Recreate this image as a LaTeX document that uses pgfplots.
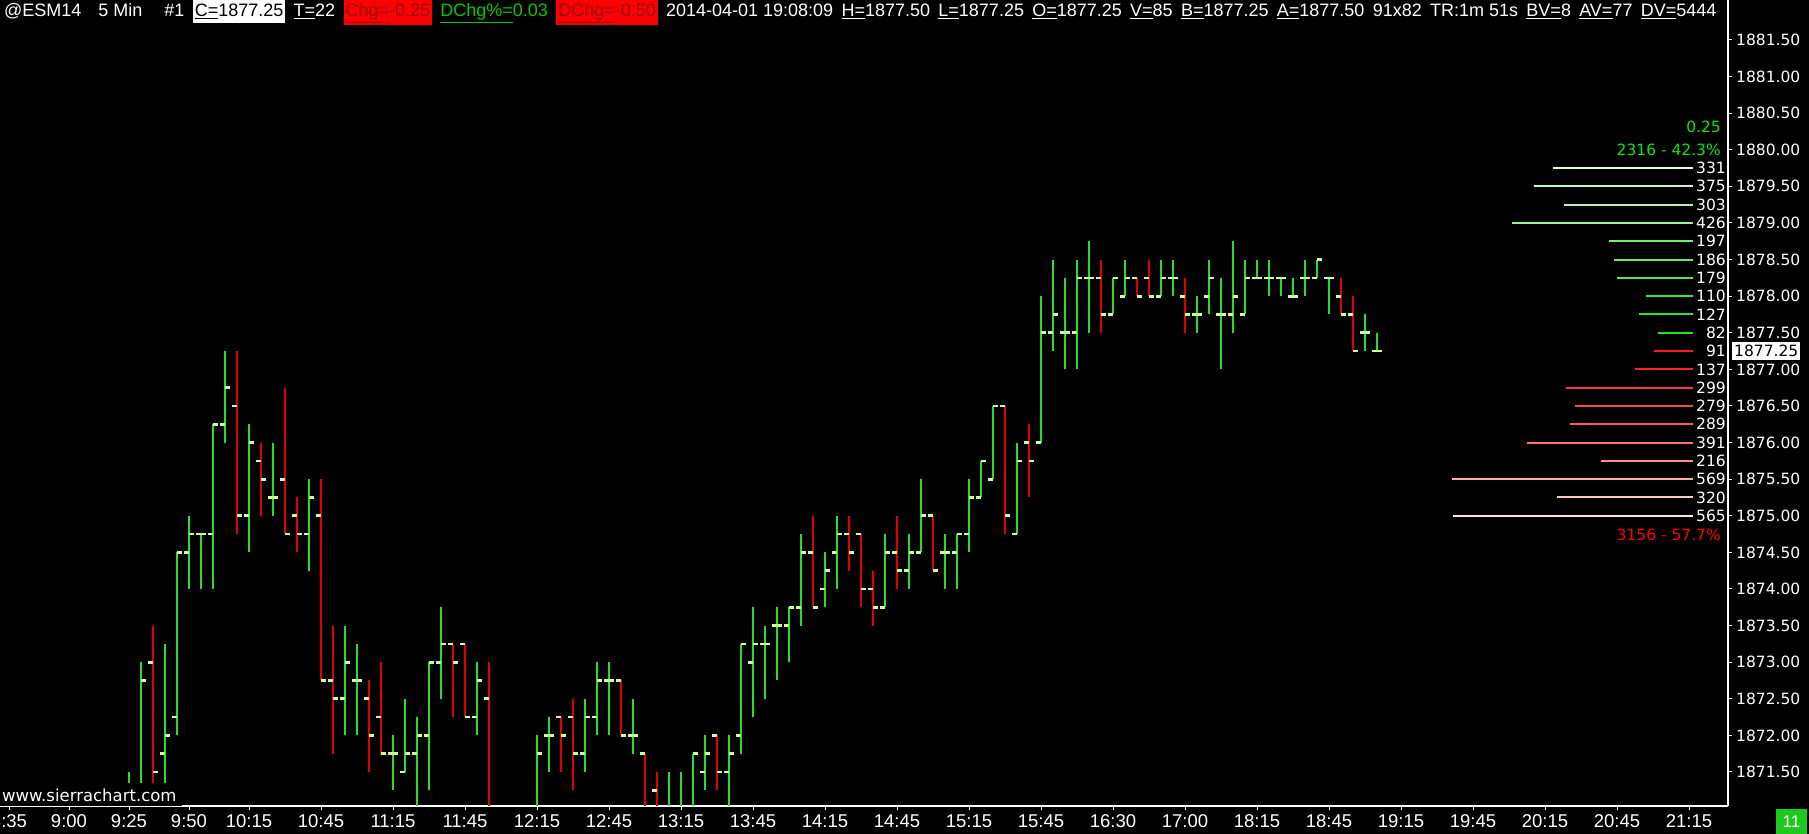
\documentclass[border=0pt]{standalone}
\usepackage{pgfplots}
\pgfplotsset{compat=1.18}
\usepackage{pgfplotstable}
\usepackage{fontspec}
\setmainfont{Liberation Sans}
\newfontfamily\dv{DejaVu Sans}

\definecolor{upg}{RGB}{40,220,40}
\definecolor{dnr}{RGB}{225,0,0}
\definecolor{tickc}{RGB}{204,255,150}
\definecolor{hdrgreen}{RGB}{0,200,0}
\definecolor{boxred}{RGB}{255,0,0}
\definecolor{boxtxt}{RGB}{150,0,0}
\definecolor{askg}{RGB}{30,230,30}
\definecolor{bidr}{RGB}{255,25,25}
\definecolor{pctg}{RGB}{0,235,0}
\definecolor{cornerg}{RGB}{30,200,30}

\newcommand\hdf{\fontsize{18bp}{20bp}\selectfont}
\newcommand\vol{\dv\fontsize{15.5bp}{17bp}\selectfont}
\newcommand\gap{\hspace{8.3bp}}
% boxed header item: background, text colour, content
\newcommand\hbx[3]{{\setlength\fboxsep{2bp}\colorbox{#1}{\rule[-4.5bp]{0pt}{19.5bp}\textcolor{#2}{#3}}}}

\pgfdeclareplotmark{otick}{\pgfpathrectangle{\pgfpoint{-4.8bp}{-1.35bp}}{\pgfpoint{4.8bp}{2.7bp}}\pgfusepathqfill}
\pgfdeclareplotmark{ctick}{\pgfpathrectangle{\pgfpoint{0bp}{-1.35bp}}{\pgfpoint{4.8bp}{2.7bp}}\pgfusepathqfill}

% bar index, open, high, low, close
\pgfplotstableread{
i o h l c
10 1871.00 1871.50 1870.75 1871.25
11 1871.25 1873.00 1871.00 1872.75
13 1871.75 1873.25 1871.25 1872.00
14 1872.25 1874.50 1872.00 1874.50
15 1874.50 1875.00 1874.00 1874.75
16 1874.75 1874.75 1874.00 1874.75
17 1874.75 1876.25 1874.00 1876.25
18 1876.25 1877.25 1876.00 1876.75
20 1875.00 1876.25 1874.50 1876.00
22 1875.25 1876.00 1875.00 1875.25
25 1874.75 1875.50 1874.25 1875.25
28 1872.50 1873.50 1872.00 1873.00
29 1872.75 1873.25 1872.00 1872.75
32 1871.75 1872.00 1871.25 1871.75
33 1871.50 1872.50 1871.50 1871.75
34 1871.75 1872.25 1870.75 1872.00
35 1872.00 1873.00 1871.25 1873.00
36 1873.00 1873.75 1872.50 1873.25
39 1872.25 1873.00 1872.00 1872.75
44 1870.75 1872.00 1870.50 1871.75
45 1872.00 1872.25 1871.50 1872.00
48 1871.75 1872.50 1871.50 1872.25
49 1872.25 1873.00 1872.00 1872.75
50 1872.75 1873.00 1872.00 1872.75
52 1872.00 1872.50 1871.75 1872.00
55 1870.75 1871.50 1870.50 1871.00
56 1870.75 1871.50 1870.50 1871.00
57 1871.00 1871.75 1870.75 1871.75
58 1871.50 1872.00 1871.25 1871.75
60 1871.50 1872.00 1870.75 1871.75
61 1872.00 1873.25 1871.75 1873.25
62 1873.00 1873.75 1872.25 1873.25
63 1873.25 1873.50 1872.50 1873.25
64 1873.50 1873.75 1872.75 1873.50
65 1873.50 1873.75 1873.00 1873.75
66 1873.75 1874.75 1873.50 1874.50
68 1874.00 1874.50 1873.75 1874.25
69 1874.50 1875.00 1874.00 1874.75
73 1873.75 1874.75 1873.75 1874.50
75 1874.25 1874.75 1874.00 1874.50
76 1874.50 1875.50 1874.50 1875.00
78 1874.50 1874.75 1874.00 1874.50
79 1874.50 1874.75 1874.00 1874.75
80 1874.75 1875.50 1874.50 1875.25
81 1875.25 1875.75 1875.25 1875.75
82 1875.50 1876.50 1875.50 1876.50
84 1874.75 1876.00 1874.75 1875.75
86 1876.00 1878.00 1876.00 1877.50
87 1877.50 1878.50 1877.25 1877.75
88 1877.50 1878.25 1877.00 1877.50
89 1877.50 1878.50 1877.00 1878.25
90 1878.25 1878.75 1877.50 1878.25
92 1877.75 1878.25 1877.75 1878.25
93 1878.00 1878.50 1878.00 1878.25
96 1878.00 1878.50 1878.00 1878.25
97 1878.25 1878.50 1878.00 1878.25
99 1877.75 1878.00 1877.50 1877.75
100 1878.00 1878.50 1877.75 1878.25
101 1877.75 1878.25 1877.00 1877.75
102 1877.75 1878.75 1877.50 1878.00
103 1877.75 1878.50 1877.75 1878.25
104 1878.25 1878.50 1878.25 1878.25
105 1878.25 1878.50 1878.00 1878.25
106 1878.25 1878.25 1878.00 1878.25
107 1878.00 1878.25 1878.00 1878.00
108 1878.25 1878.50 1878.00 1878.25
109 1878.25 1878.50 1878.25 1878.50
110 1878.25 1878.25 1877.75 1878.25
113 1877.50 1877.75 1877.25 1877.50
114 1877.25 1877.50 1877.25 1877.25
}\upbars

\pgfplotstableread{
i o h l c
12 1873.00 1873.50 1871.00 1871.50
19 1876.50 1877.25 1874.75 1875.00
21 1875.75 1876.00 1875.00 1875.50
23 1875.50 1876.75 1874.75 1874.75
24 1875.00 1875.25 1874.50 1874.75
26 1875.00 1875.50 1872.75 1872.75
27 1872.75 1873.50 1871.75 1872.50
30 1872.50 1872.75 1871.50 1872.00
31 1872.25 1873.00 1871.75 1871.75
37 1873.25 1873.25 1872.25 1873.00
38 1873.25 1873.25 1872.25 1872.25
40 1872.50 1873.00 1870.50 1870.75
46 1872.25 1872.25 1871.50 1872.00
47 1872.25 1872.50 1871.25 1871.75
51 1872.75 1872.75 1872.00 1872.00
53 1871.75 1871.75 1870.75 1871.00
54 1871.25 1871.50 1870.75 1870.75
59 1872.00 1872.00 1871.25 1871.50
67 1874.50 1875.00 1873.75 1873.75
70 1874.75 1875.00 1874.25 1874.50
71 1874.75 1874.75 1873.75 1874.00
72 1874.00 1874.25 1873.50 1873.75
74 1874.50 1875.00 1874.00 1874.25
77 1875.00 1875.00 1874.25 1874.25
83 1876.50 1876.50 1874.75 1875.00
85 1876.00 1876.25 1875.25 1875.75
91 1878.25 1878.50 1877.50 1877.75
94 1878.25 1878.25 1878.00 1878.00
95 1878.25 1878.50 1878.00 1878.00
98 1878.00 1878.25 1877.50 1877.75
111 1878.00 1878.25 1877.75 1877.75
112 1877.75 1878.00 1877.25 1877.25
}\dnbars

% depth line: price, size, colour
\newcommand{\depth}[3]{%
  \pgfmathsetmacro{\dx}{140.31-#2*0.03529}%
  \edef\temp{\noexpand\addplot[forget plot, draw=#3, line width=2bp] coordinates {(\dx,#1) (140.31,#1)};}%
  \temp
  \node[anchor=east, inner sep=0pt, text=white, font=\vol] at (axis cs:143.08,#1) {#2};%
}

\begin{document}
\begin{tikzpicture}
\fill[black] (0,-28bp) rectangle (1809bp,806bp);
\begin{axis}[
  scale only axis, width=1728bp, height=806bp,
  at={(0,0)}, anchor=south west,
  xmin=-0.75, xmax=143.25, ymin=1871.035, ymax=1882.046,
  axis x line=bottom, axis y line=right,
  axis line style={white, line width=1.3bp},
  x axis line style={-}, y axis line style={-},
  tick align=outside, major tick length=4bp,
  tick style={white, line width=1bp},
  xtick={0,5,10,15,20,26,32,38,44,50,56,62,68,74,80,86,92,98,104,110,116,122,128,134,140},
  xticklabels={8:35,9:00,9:25,9:50,10:15,10:45,11:15,11:45,12:15,12:45,13:15,13:45,14:15,14:45,15:15,15:45,16:30,17:00,18:15,18:45,19:15,19:45,20:15,20:45,21:15},
  ytick={1871.5,1872,1872.5,1873,1873.5,1874,1874.5,1875,1875.5,1876,1876.5,1877,1877.5,1878,1878.5,1879,1879.5,1880,1880.5,1881,1881.5},
  yticklabels={1871.50,1872.00,1872.50,1873.00,1873.50,1874.00,1874.50,1875.00,1875.50,1876.00,1876.50,1877.00,1877.50,1878.00,1878.50,1879.00,1879.50,1880.00,1880.50,1881.00,1881.50},
  xticklabel style={font=\fontsize{18.5bp}{20bp}\selectfont, text=white, anchor=north, inner sep=0pt, yshift=-4.5bp},
  yticklabel style={font=\vol, text=white, anchor=west, inner sep=0pt, xshift=4bp},
  axis background/.style={fill=black},
]
% high-low lines
\addplot[forget plot, draw=none, mark=none, error bars/.cd, y dir=plus, y explicit, error mark=none,
  error bar style={draw=upg, line width=1.2bp}]
  table[x=i, y=l, y error expr=\thisrow{h}-\thisrow{l}] {\upbars};
\addplot[forget plot, draw=none, mark=none, error bars/.cd, y dir=plus, y explicit, error mark=none,
  error bar style={draw=dnr, line width=1.2bp}]
  table[x=i, y=l, y error expr=\thisrow{h}-\thisrow{l}] {\dnbars};
% open and close ticks
\addplot[forget plot, only marks, mark=otick, mark options={fill=tickc, draw=none}] table[x=i, y=o] {\upbars};
\addplot[forget plot, only marks, mark=ctick, mark options={fill=tickc, draw=none}] table[x=i, y=c] {\upbars};
\addplot[forget plot, only marks, mark=otick, mark options={fill=tickc, draw=none}] table[x=i, y=o] {\dnbars};
\addplot[forget plot, only marks, mark=ctick, mark options={fill=tickc, draw=none}] table[x=i, y=c] {\dnbars};

% market depth: asks
\depth{1877.50}{82}{askg}
\depth{1877.75}{127}{askg!95!white}
\depth{1878.00}{110}{askg!90!white}
\depth{1878.25}{179}{askg!80!white}
\depth{1878.50}{186}{askg!72!white}
\depth{1878.75}{197}{askg!64!white}
\depth{1879.00}{426}{askg!45!white}
\depth{1879.25}{303}{askg!35!white}
\depth{1879.50}{375}{askg!25!white}
\depth{1879.75}{331}{askg!12!white}
% market depth: bids
\depth{1877.25}{91}{bidr}
\depth{1877.00}{137}{bidr!95!white}
\depth{1876.75}{299}{bidr!88!white}
\depth{1876.50}{279}{bidr!80!white}
\depth{1876.25}{289}{bidr!72!white}
\depth{1876.00}{391}{bidr!62!white}
\depth{1875.75}{216}{bidr!50!white}
\depth{1875.50}{569}{bidr!36!white}
\depth{1875.25}{320}{bidr!24!white}
\depth{1875.00}{565}{bidr!12!white}

\node[anchor=east, inner sep=0pt, text=pctg, font=\vol] at (axis cs:142.67,1880.316) {0.25};
\node[anchor=east, inner sep=0pt, text=pctg, font=\vol] at (axis cs:142.67,1880.00) {2316 - 42.3\%};
\node[anchor=east, inner sep=0pt, text=boxred, font=\vol] at (axis cs:142.67,1874.74) {3156 - 57.7\%};
\coordinate (cp) at (axis cs:143.25,1877.25);
\end{axis}

% current price box
\node[anchor=west, xshift=4bp, fill=white, text=black, font=\vol, inner xsep=2bp, inner ysep=3bp] at (cp) {1877.25};

% header line
\node[anchor=base west, inner sep=0pt, font=\hdf, text=white] at (4bp,789bp) {%
@ESM14\hspace{17bp}5 Min\hspace{22bp}\#1\gap
\hbx{white}{black}{\underline{C=}1877.25}\gap
\underline{T=}22\gap
\hbx{boxred}{boxtxt}{\underline{Chg=}-0.25}\gap
\textcolor{hdrgreen}{\underline{DChg\%=}0.03}\gap
\hbx{boxred}{boxtxt}{\underline{DChg=}-0.50}\gap
2014-04-01 19:08:09\gap
\underline{H=}1877.50\gap
\underline{L=}1877.25\gap
\underline{O=}1877.25\gap
\underline{V=}85\gap
\underline{B=}1877.25\gap
\underline{A=}1877.50\gap
91x82\gap
TR:1m 51s\gap
\underline{BV=}8\gap
\underline{AV=}77\gap
\underline{DV=}5444}%
;

% watermark and corner box
\fill[black] (0,0) rectangle (182bp,23bp);
\node[anchor=base west, inner sep=0pt, text=white, font=\dv\fontsize{16.5bp}{18bp}\selectfont] at (2bp,5bp) {www.sierrachart.com};
\fill[cornerg] (1776bp,-28bp) rectangle (1807bp,-3bp);
\node[text=white, font=\fontsize{17bp}{19bp}\selectfont, inner sep=0pt] at (1791.5bp,-15.5bp) {11};

\pgfresetboundingbox
\path (0,-28bp) rectangle (1809bp,806bp);
\end{tikzpicture}
\end{document}
